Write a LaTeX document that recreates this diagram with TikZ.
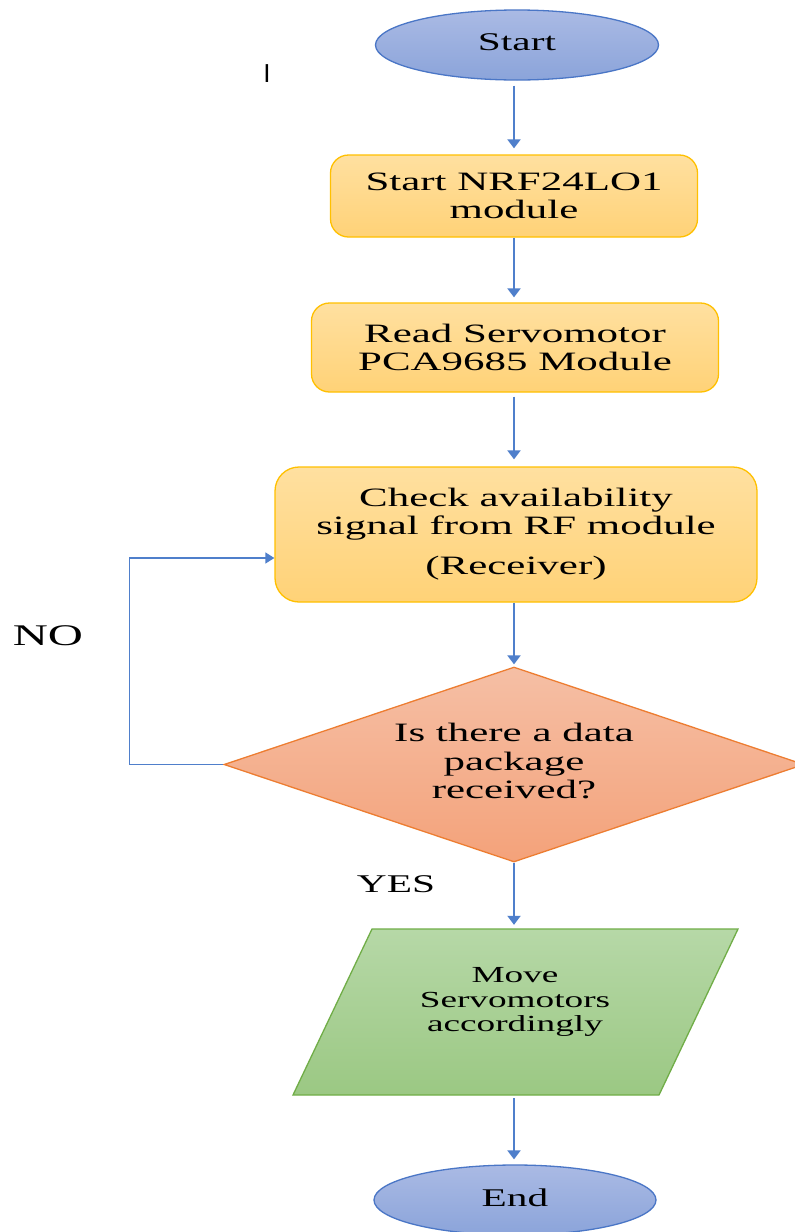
\documentclass[tikz,border=0pt]{standalone}
\usepackage{fontspec}
\setmainfont[FakeStretch=1.62]{Liberation Serif}
\newfontfamily\barfont{Liberation Sans}
\usetikzlibrary{shapes.geometric,arrows.meta}
\definecolor{termT}{HTML}{AABAE4}
\definecolor{termBot}{HTML}{8BA4DA}
\definecolor{termB}{HTML}{4A76C6}
\definecolor{procT}{HTML}{FFE0A0}
\definecolor{procBot}{HTML}{FFD277}
\definecolor{procB}{HTML}{FFC000}
\definecolor{decT}{HTML}{F5BFA5}
\definecolor{decBot}{HTML}{F4A27A}
\definecolor{decB}{HTML}{ED7D31}
\definecolor{movT}{HTML}{B6D8A7}
\definecolor{movBot}{HTML}{9BC883}
\definecolor{movB}{HTML}{70AD47}
\definecolor{arrC}{HTML}{4F7FCB}
\tikzset{
  term/.style={ellipse, draw=termB, line width=1.3pt, top color=termT, bottom color=termBot,
    minimum width=283pt, minimum height=70pt, inner sep=0pt, font=\fontsize{25.5}{28}\selectfont},
  proc/.style={rectangle, rounded corners=18pt, draw=procB, line width=1.3pt, top color=procT,
    bottom color=procBot, inner sep=0pt, align=center, font=\fontsize{26.5}{28}\selectfont},
  dec/.style={diamond, aspect=2.97, draw=decB, line width=1.3pt, top color=decT, bottom color=decBot,
    minimum width=580pt, minimum height=195pt, inner sep=0pt, align=center,
    font=\fontsize{26.5}{28.5}\selectfont},
  arr/.style={draw=arrC, line width=2pt, -{Triangle[width=13pt,length=9pt]}},
  loopline/.style={draw=arrC, line width=1.4pt, -{Triangle[width=11pt,length=9pt]}},
  lbl/.style={inner sep=0pt, text=black}
}
\begin{document}
\begin{tikzpicture}[x=1pt,y=-1pt]
\useasboundingbox (0,0) rectangle (795,1232);
\clip (0,0) rectangle (795,1232);
\fill[white] (0,0) rectangle (795,1232);

\node[term] (start) at (517,45) {\raisebox{6pt}{Start}};
\node[proc, minimum width=367pt, minimum height=82pt] (box1) at (514,196)
  {Start NRF24LO1\\module};
\node[proc, minimum width=407pt, minimum height=89pt] (box2) at (515,347.5)
  {Read Servomotor\\PCA9685 Module};
\node[proc, rounded corners=24pt, minimum width=482pt, minimum height=135pt] (box3) at (516,534.5)
  {\raisebox{6pt}{\begin{tabular}{@{}c@{}}Check availability\\signal from RF module\\[12pt](Receiver)\end{tabular}}};
\node[dec] (dec) at (514,764.5) {\raisebox{3pt}{\begin{tabular}{@{}c@{}}Is there a data\\package\\received?\end{tabular}}};

\path[draw=movB, line width=1.3pt, top color=movT, bottom color=movBot]
  (372,929) -- (738,929) -- (659,1095) -- (293,1095) -- cycle;
\node[inner sep=0pt, minimum width=366pt, minimum height=166pt] (move) at (515.5,1012) {};
\node[lbl, align=center, font=\fontsize{23}{24.5}\selectfont] (movetxt) at (515,1002)
  {Move\\Servomotors\\accordingly};

\node[term, minimum width=282pt] (end) at (515,1200) {\raisebox{5pt}{End}};

\node[lbl, font=\fontsize{30}{32}\selectfont] (no) at (48,636) {NO};
\node[lbl, font=\fontsize{25.5}{28}\selectfont] (yes) at (396,884) {YES};
\node[lbl, font=\barfont\fontsize{26}{28}\selectfont] (bar) at (267,74) {I};

\draw[arr, shorten <=5pt, shorten >=6pt] (start.south -| box1.north) -- (box1.north);
\draw[arr, shorten >=5pt] (box1.south) -- (box2.north -| box1.south);
\draw[arr, shorten <=4pt, shorten >=7pt] (box2.south -| box1.south) -- (box3.north -| box1.south);
\draw[arr, shorten >=2pt] (box3.south -| dec.north) -- (dec.north);
\draw[arr, shorten >=4pt] (dec.south) -- (move.north -| dec.south);
\draw[arr, shorten <=3pt, shorten >=5pt] (move.south -| dec.south) -- (end.north -| dec.south);
\draw[loopline] (dec.west) -- ++(-94,0) |- ([yshift=-23.5pt]box3.west);
\end{tikzpicture}
\end{document}
